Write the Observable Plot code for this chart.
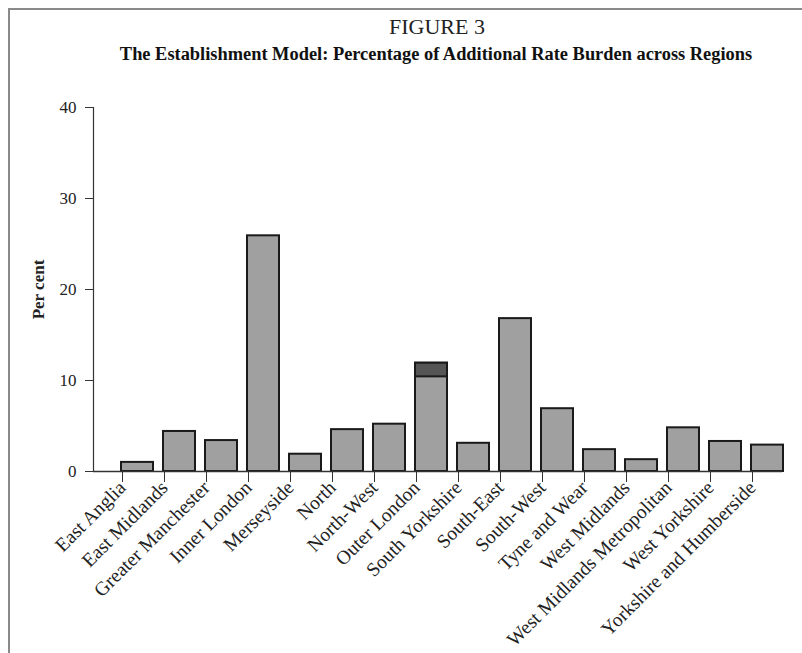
<!DOCTYPE html>
<html>
<head>
<meta charset="utf-8">
<script src="https://cdn.jsdelivr.net/npm/d3@7"></script>
<script src="https://cdn.jsdelivr.net/npm/@observablehq/plot@0.6"></script>
<style>
  html, body { margin: 0; padding: 0; background: #fff; }
  #wrap { position: relative; width: 802px; height: 653px; overflow: hidden; background: #fff; }
  #border { position: absolute; left: 8px; top: 8px; width: 800px; height: 650px;
            border-left: 2px solid #8a8a8a; border-top: 2px solid #8a8a8a; }
  #head { position: relative; height: 70px; }
  #title { position: absolute; left: 0; width: 874px; top: 14px; text-align: center;
           font-family: "Liberation Serif", serif; font-size: 22px; color: #222; }
  #subtitle { position: absolute; left: 0; width: 872px; top: 44px; text-align: center;
           font-family: "Liberation Serif", serif; font-weight: bold; font-size: 18.4px; color: #111; }
  #chart svg { display: block; }
</style>
</head>
<body>
<div id="wrap">
  <div id="border"></div>
  <div id="head">
    <div id="title">FIGURE 3</div>
    <div id="subtitle">The Establishment Model: Percentage of Additional Rate Burden across Regions</div>
  </div>
  <div id="chart"></div>
</div>
<script>
const regions = ["East Anglia", "East Midlands", "Greater Manchester", "Inner London", "Merseyside",
  "North", "North-West", "Outer London", "South Yorkshire", "South-East", "South-West",
  "Tyne and Wear", "West Midlands", "West Midlands Metropolitan", "West Yorkshire", "Yorkshire and Humberside"];
const percent = [1.0, 4.4, 3.4, 25.9, 1.9, 4.6, 5.2, 11.9, 3.1, 16.8, 6.9, 2.4, 1.3, 4.8, 3.3, 2.9];
// darker cap segment visible on the Outer London bar
const capRegion = ["Outer London"];
const capLow = [10.4];
const capHigh = [11.9];
const yTicks = [0, 10, 20, 30, 40];

const data = regions.map((r, i) => ({region: r, value: percent[i]}));
const caps = capRegion.map((r, i) => ({region: r, y1: capLow[i], y2: capHigh[i]}));

const chart = Plot.plot({
  width: 802,
  height: 583,
  marginLeft: 93,
  marginRight: 20,
  marginTop: 37,
  marginBottom: 182,
  style: {fontFamily: "Liberation Serif, serif", color: "#222", background: "transparent"},
  x: {domain: regions, paddingInner: 0.25, paddingOuter: 0.163, align: 1, label: null},
  y: {domain: [0, 40], label: null},
  marks: [
    Plot.barY(data, {x: "region", y: "value", fill: "#a0a0a0", stroke: "#1a1a1a", strokeWidth: 2}),
    Plot.barY(caps, {x: "region", y1: "y1", y2: "y2", fill: "#555", stroke: "#1a1a1a", strokeWidth: 2}),
    Plot.frame({anchor: "left", stroke: "#333", strokeWidth: 1.2}),
    Plot.ruleY([0], {stroke: "#333", strokeWidth: 1.5}),
    Plot.axisY({ticks: yTicks, tickSize: 8, tickPadding: 9, fontSize: 17, stroke: "#333",
                label: "Per cent", labelAnchor: "center", labelArrow: "none", labelOffset: 62}),
    Plot.axisX({tickSize: 11, tickRotate: -45, tickPadding: 2, fontSize: 19.5, stroke: "#333", label: null,
                dx: -15, dy: 0})
  ]
});
d3.select(chart).selectAll("g[aria-label='y-axis label'] text")
  .style("font-weight", "bold").style("font-size", "17px");
document.getElementById("chart").appendChild(chart);
</script>
</body>
</html>
